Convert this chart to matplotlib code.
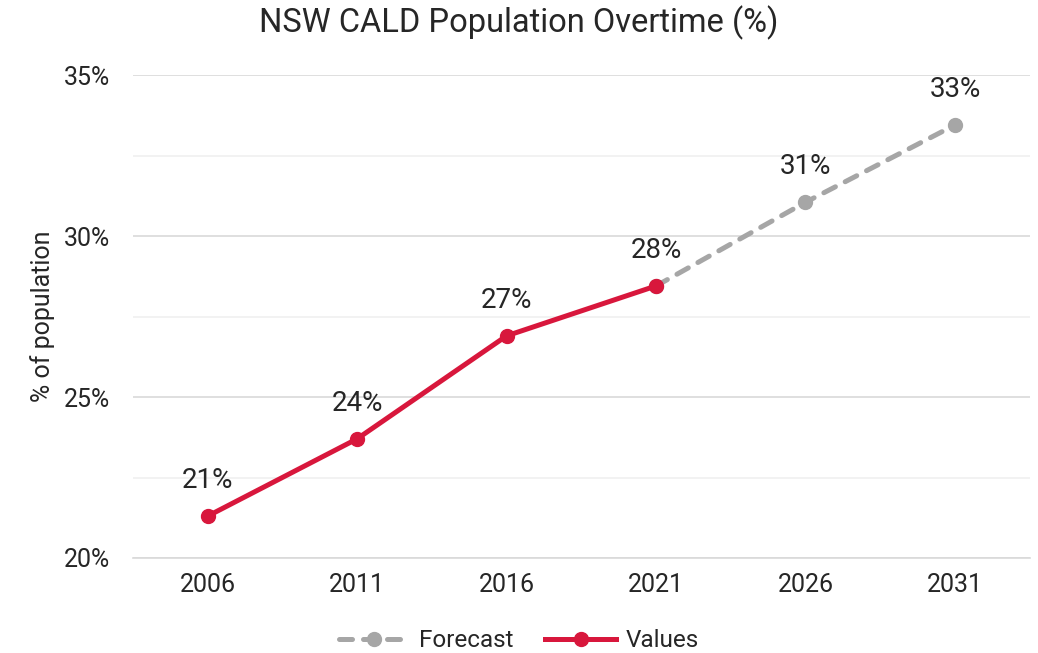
import matplotlib
matplotlib.use("Agg")
import matplotlib.pyplot as plt
import numpy as np

years = ["2006", "2011", "2016", "2021", "2026", "2031"]
values = [21.3, 23.7, 26.9, 28.45, None, None]
forecast = [None, None, None, 28.45, 31.05, 33.45]
labels = ["21%", "24%", "27%", "28%", "31%", "33%"]
yticks = [20, 25, 30, 35]
ytick_labels = ["20%", "25%", "30%", "35%"]

plt.rcParams['font.family'] = ['Roboto', 'DejaVu Sans']
text_color = "#262626"

fig = plt.figure(figsize=(10.38, 6.53), dpi=100)
ax = fig.add_axes([0.128, 0.1455, 0.864, 0.7395])

x = np.arange(len(years))
fv = np.array([np.nan if v is None else v for v in forecast], dtype=float)
vv = np.array([np.nan if v is None else v for v in values], dtype=float)

ax.plot(x, fv, color="#a6a6a6", lw=3.6, ls=(0, (2.6, 2.2)), marker="o", ms=10,
        label="Forecast", zorder=3, dash_capstyle="round")
ax.plot(x, vv, color="#d8173c", lw=3.6, marker="o", ms=10, label="Values", zorder=4)

for i in range(len(years)):
    val = vv[i] if not np.isnan(vv[i]) else fv[i]
    ax.annotate(labels[i], (x[i], val), xytext=(0, 16), textcoords="offset points",
                ha="center", va="bottom", fontsize=20, color=text_color)

ax.set_xlim(-0.5, len(years) - 0.5)
ax.set_ylim(20, 35)
ax.set_xticks(x)
ax.set_xticklabels(years, fontsize=18, color=text_color)
ax.set_yticks(yticks)
ax.set_yticklabels(ytick_labels, fontsize=18, color=text_color)
ax.set_yticks([22.5, 27.5, 32.5], minor=True)
ax.tick_params(axis="both", which="both", length=0)
ax.tick_params(axis="x", pad=11)
ax.tick_params(axis="y", pad=16.5)
ax.grid(axis="y", which="major", color="#d9d9d9", lw=1.2)
ax.grid(axis="y", which="minor", color="#f0f0f0", lw=1.2)
ax.set_axisbelow(True)
for s in ["top", "right", "left"]:
    ax.spines[s].set_visible(False)
ax.spines["bottom"].set_color("#d9d9d9")
ax.spines["bottom"].set_linewidth(1.2)

ax.set_ylabel("% of population", fontsize=18, color=text_color, labelpad=6)
fig.text(0.5, 0.965, "NSW CALD Population Overtime (%)", ha="center", va="center",
         fontsize=23.5, color=text_color)

leg = fig.legend(loc="center", bbox_to_anchor=(0.5, 0.019), ncol=2, frameon=False,
                 fontsize=17.5, handlelength=2.9, columnspacing=1.3, handletextpad=0.4)
for t in leg.get_texts():
    t.set_color(text_color)

fig.savefig("out.png", dpi=100)
